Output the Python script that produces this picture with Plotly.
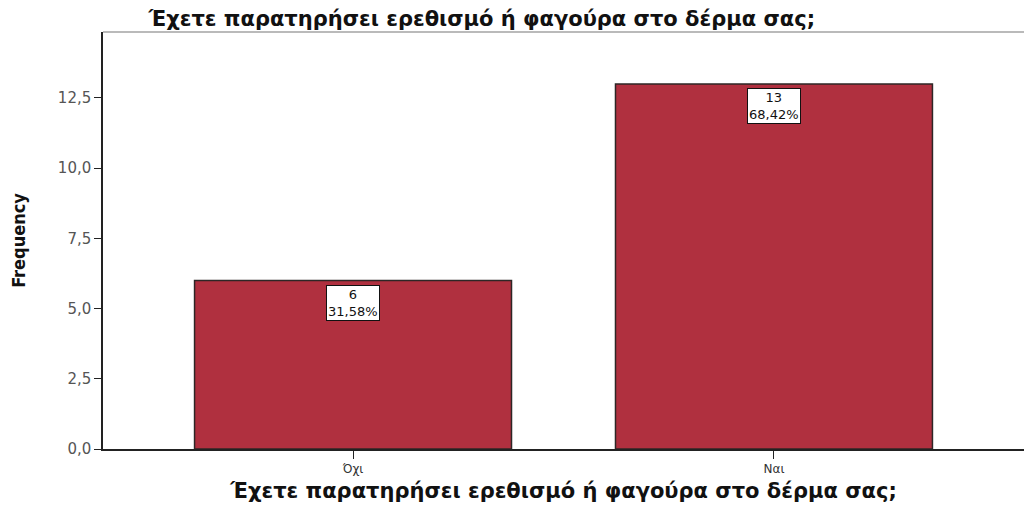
import plotly.graph_objects as go

categories = ["Όχι", "Ναι"]
counts = [6, 13]
percents = ["31,58%", "68,42%"]
title_text = "Έχετε παρατηρήσει ερεθισμό ή φαγούρα στο δέρμα σας;"
y_ticks = [0, 2.5, 5, 7.5, 10, 12.5]

fig = go.Figure()
fig.add_trace(go.Bar(
    x=[0, 1], y=counts, width=0.753,
    marker=dict(color="#B0303F", line=dict(color="#2e2626", width=1.5)),
    hoverinfo="skip",
))

for i, (c, p) in enumerate(zip(counts, percents)):
    fig.add_annotation(
        x=i, y=c, xref="x", yref="y", yanchor="top", yshift=-4,
        text=f"{c}<br>{p}", showarrow=False,
        font=dict(family="DejaVu Sans", size=13, color="#111"),
        bgcolor="white", bordercolor="#111", borderwidth=1, borderpad=1,
    )

fig.add_shape(type="line", xref="paper", yref="paper", x0=0, x1=1, y0=1, y1=1,
              line=dict(color="#777", width=1.2))

fig.update_layout(
    width=1024, height=515,
    margin=dict(l=103, r=0, t=32, b=66),
    paper_bgcolor="white", plot_bgcolor="white",
    separators=",.",
    showlegend=False,
    title=dict(text=f"<b>{title_text}</b>", x=0.145, xanchor="left",
               yref="container", y=0.963, yanchor="middle",
               font=dict(family="DejaVu Sans", size=21, color="#111")),
    font=dict(family="DejaVu Sans", color="#333"),
)
fig.update_xaxes(
    range=[-0.594, 1.594], tickvals=[0, 1], ticktext=categories,
    showline=True, linecolor="#222", linewidth=1.5,
    ticks="outside", ticklen=8, tickcolor="#222",
    tickfont=dict(family="DejaVu Sans", size=12, color="#333"),
    showgrid=False, zeroline=False,
    title=dict(text=f"<b>{title_text}</b>", standoff=8,
               font=dict(family="DejaVu Sans", size=21, color="#111")),
)
fig.update_yaxes(
    range=[0, 14.85], tickvals=y_ticks, tickformat=".1f",
    showline=True, linecolor="#222", linewidth=1.5,
    ticks="outside", ticklen=7, tickcolor="#222",
    tickfont=dict(family="DejaVu Sans", size=15, color="#555"),
    showgrid=False, zeroline=False,
    title=dict(text="<b>Frequency</b>", standoff=28,
               font=dict(family="Liberation Sans Narrow, DejaVu Sans Condensed", size=18, color="#111")),
)

fig.write_html("out.html")
